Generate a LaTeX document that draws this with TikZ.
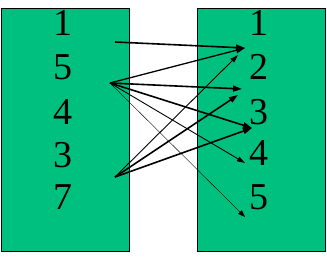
\documentclass[tikz,border=0pt]{standalone}
\usepackage{fontspec}
\setmainfont{Liberation Serif}
\usetikzlibrary{arrows.meta}
\definecolor{boxgreen}{RGB}{0,192,128}
\tikzset{
  setbox/.style={draw=black, fill=boxgreen, line width=0.8pt},
  elem/.style={font=\fontsize{38}{44}\selectfont, inner sep=0pt},
  map/.style={-{Triangle[length=9pt, width=6pt]}, line width=1.6pt},
  mapthin/.style={map, line width=0.9pt, -{Triangle[length=8pt, width=5pt]}},
  mapfine/.style={map, line width=0.4pt, -{Triangle[length=7pt, width=5pt]}}
}

\begin{document}
\begin{tikzpicture}[x=1pt, y=-1pt]
  \useasboundingbox (0,0) rectangle (327,259);
  \draw[setbox] (1,8) rectangle (129,251);
  \draw[setbox] (197,8) rectangle (325,251);
  % domain and codomain
  \foreach \v/\y in {1/23,5/67,4/112,3/155,7/197}
    \node[elem] (l\v) at (63,\y) {\v};
  \foreach \v/\y in {1/23,2/67,3/112,4/153,5/197}
    \node[elem] (r\v) at (259,\y) {\v};
  % arrow ends
  \coordinate (s1) at (115,42);
  \coordinate (s5) at (110,83);
  \coordinate (s7) at (115,177);
  \coordinate (e1) at (245,48);
  \coordinate (e2) at (238,55);
  \coordinate (e3) at (242,89);
  \coordinate (e23) at (238,95);
  \coordinate (e34) at (252,128);
  \coordinate (e4) at (245,163);
  \coordinate (e5) at (245,217);
  % the relation
  \draw[map] (s1) -- (e1);
  \draw[map, line width=1.3pt] (s5) -- (e1);
  \draw[map] (s5) -- (e3);
  \draw[map] (s5) -- (e34);
  \draw[mapthin] (s5) -- (e4);
  \draw[mapfine] (s5) -- (e5);
  \draw[mapthin] (s7) -- (e2);
  \draw[map] (s7) -- (e23);
  \draw[map] (s7) -- (e34);
\end{tikzpicture}
\end{document}
